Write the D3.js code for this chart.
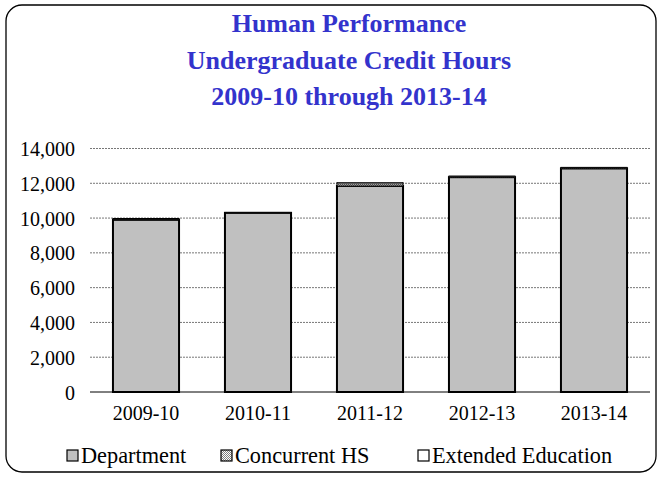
<!DOCTYPE html>
<html><head><meta charset="utf-8">
<script src="https://cdn.jsdelivr.net/npm/d3@7/dist/d3.min.js"></script>
<style>body{margin:0;background:#fff}svg{display:block}</style>
</head><body>
<script>
const categories = ["2009-10","2010-11","2011-12","2012-13","2013-14"];
const department = [9900, 10300, 11850, 12350, 12850];
const concurrentHS = [40, 20, 120, 50, 60];
const extendedEd = [30, 10, 80, 20, 10];
const seriesNames = ["Department","Concurrent HS","Extended Education"];
const yTicks = [0,2000,4000,6000,8000,10000,12000,14000];
const titleLines = ["Human Performance","Undergraduate Credit Hours","2009-10 through 2013-14"];

const W=662,H=477;
const svg=d3.select("body").append("svg").attr("width",W).attr("height",H);
const font="'Liberation Serif','Times New Roman',serif";

const defs=svg.append("defs");
const pat=defs.append("pattern").attr("id","chk").attr("width",2).attr("height",2).attr("patternUnits","userSpaceOnUse");
pat.append("rect").attr("width",2).attr("height",2).attr("fill","#fff");
pat.append("rect").attr("width",1).attr("height",1).attr("fill","#808080");
pat.append("rect").attr("x",1).attr("y",1).attr("width",1).attr("height",1).attr("fill","#808080");

svg.append("rect").attr("x",6).attr("y",5).attr("width",650).attr("height",467).attr("rx",16).attr("ry",16)
  .attr("fill","#fff").attr("stroke","#000").attr("stroke-width",1.3);

const t=svg.append("g").attr("font-family",font).attr("font-weight","bold").attr("font-size",26).attr("fill","#3333CC").attr("text-anchor","middle");
titleLines.forEach((s,i)=>t.append("text").attr("x",349).attr("y",32+i*36.5).text(s));

const x=d3.scaleBand().domain(categories).range([90,650]).paddingInner(0.41).paddingOuter(0.205);
const y=d3.scaleLinear().domain([0,14000]).range([392,148.5]);

svg.append("g").selectAll("line").data(yTicks.slice(1)).join("line")
  .attr("x1",90).attr("x2",650).attr("y1",d=>y(d)).attr("y2",d=>y(d))
  .attr("stroke","#777").attr("stroke-width",1).attr("stroke-dasharray","2,1");

const yAxis=d3.axisLeft(y).tickValues(yTicks).tickSize(0).tickPadding(15).tickFormat(d3.format(","));
const ya=svg.append("g").attr("transform","translate(90,0)").call(yAxis);
ya.select(".domain").remove();
ya.selectAll("text").attr("font-family",font).attr("font-size",20).attr("fill","#000").attr("dy","0.35em");

const stackData=categories.map((c,i)=>({cat:c,Department:department[i],"Concurrent HS":concurrentHS[i],"Extended Education":extendedEd[i]}));
const stack=d3.stack().keys(seriesNames)(stackData);
const fills={"Department":"#C0C0C0","Concurrent HS":"url(#chk)","Extended Education":"#fff"};
stack.forEach(layer=>{
  svg.append("g").selectAll("rect").data(layer).join("rect")
    .attr("x",d=>x(d.data.cat)).attr("width",x.bandwidth())
    .attr("y",d=>y(d[1])).attr("height",d=>y(d[0])-y(d[1]))
    .attr("fill",fills[layer.key]).attr("stroke","#000").attr("stroke-width",layer.key==="Department"?2:0.8);
});

svg.append("line").attr("x1",90).attr("x2",650).attr("y1",392).attr("y2",392).attr("stroke","#000").attr("stroke-width",1);

const xAxis=d3.axisBottom(x).tickSize(0).tickPadding(14);
const xa=svg.append("g").attr("transform","translate(0,392)").call(xAxis);
xa.select(".domain").remove();
xa.selectAll("text").attr("font-family",font).attr("font-size",20).attr("fill","#000");

const legX=[67,221,418];
const lg=svg.append("g");
seriesNames.forEach((n,i)=>{
  lg.append("rect").attr("x",legX[i]).attr("y",450).attr("width",11).attr("height",11)
    .attr("fill",fills[n]).attr("stroke","#000").attr("stroke-width",1.2);
  lg.append("text").attr("x",legX[i]+14).attr("y",463).attr("font-family",font).attr("font-size",22.3).attr("fill","#000").text(n);
});
</script>
</body></html>
